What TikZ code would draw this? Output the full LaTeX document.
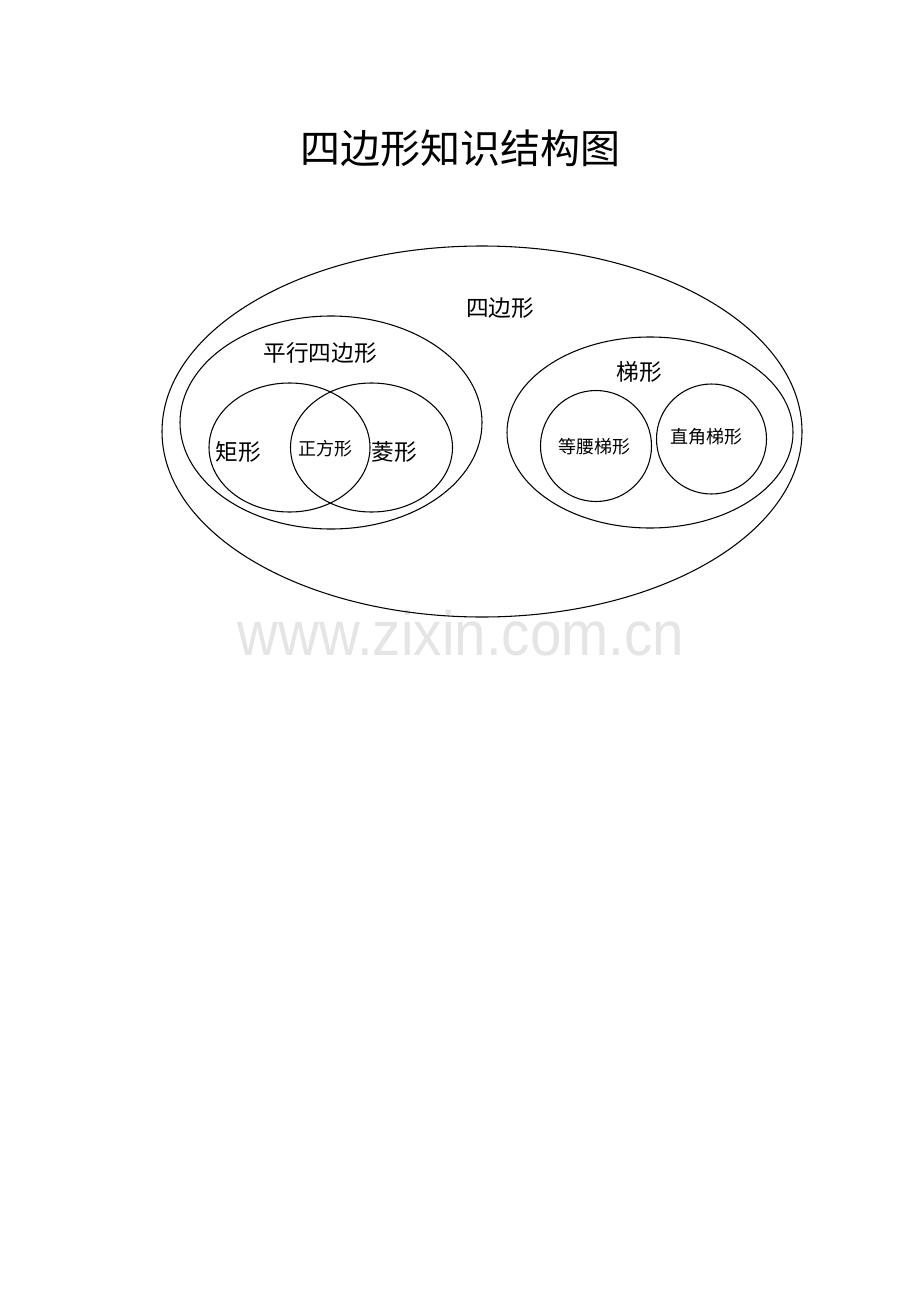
\documentclass[tikz,border=0pt]{standalone}
\usepackage{fontspec}
\usepackage{tikz}
\newfontfamily\cjk{Noto Sans CJK SC}
\setsansfont{Liberation Sans}

\begin{document}
\begin{tikzpicture}[x=0.75pt,y=-0.75pt,line width=0.8pt]
            % Page
            \useasboundingbox (0,0) rectangle (920,1302);

            % Watermark (under the lines)
            \node[text=black!10,xscale=1.01,yscale=1.12] (mark) at (461,633) {\sffamily\fontsize{42}{48}\selectfont www.zixin.com.cn};

            % Title
            \node (title) at (460,148) {\cjk\fontsize{30}{36}\selectfont 四边形知识结构图};

            % Ellipses
            \draw (482,431.5) ellipse [x radius=320, y radius=185.5];
            \draw (331,422.5) ellipse [x radius=151, y radius=106.5];
            \draw (289.5,447.5) ellipse [x radius=80.5, y radius=64.5];
            \draw (371.5,447.5) ellipse [x radius=81, y radius=64.5];
            \draw (650,432.5) ellipse [x radius=143, y radius=95.5];
            \draw (596,446) circle [radius=55.5];
            \draw (711.5,439) circle [radius=55];

            % Labels
            \foreach \x/\y/\t/\name in {500/308/四边形/quad, 320/353/平行四边形/para, 238/452/矩形/rect, 394/452/菱形/rhom, 639/372/梯形/trap} {
                \node (\name) at (\x,\y) {\cjk\fontsize{17}{20}\selectfont \t};
            }
            \foreach \x/\y/\t/\name in {325/449/正方形/squa, 594/447/等腰梯形/isos, 706/437/直角梯形/righ} {
                \node (\name) at (\x,\y) {\cjk\fontsize{13.5}{16}\selectfont \t};
            }
        \end{tikzpicture}
\end{document}
